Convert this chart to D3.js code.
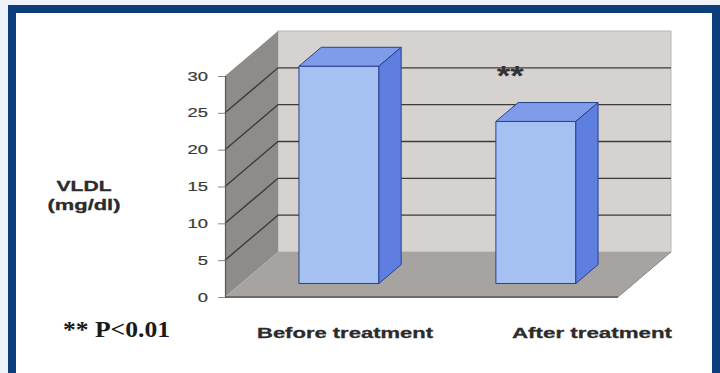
<!DOCTYPE html>
<html><head><meta charset="utf-8">
<script src="https://cdn.jsdelivr.net/npm/d3@7"></script>
<style>html,body{margin:0;padding:0;background:#fff;overflow:hidden;} svg{display:block;}</style>
</head><body>
<script>
// VLDL before and after treatment (mg/dl)
const categories = ["Before treatment", "After treatment"];
const values = [29.5, 22];
const tickValues = [0, 5, 10, 15, 20, 25, 30];
const axisTitle = ["VLDL", "(mg/dl)"];
const significanceMark = "**";
const footnote = "** P<0.01";

const W = 720, H = 373;
const svg = d3.select("body").append("svg").attr("width", W).attr("height", H);

// slide background and dark blue frame
svg.append("rect").attr("width", W).attr("height", H).attr("fill", "#edf3f9");
svg.append("rect").attr("x", 8).attr("y", 5).attr("width", 720).attr("height", 400).attr("fill", "#0e3d7c");
svg.append("rect").attr("x", 16).attr("y", 13).attr("width", 696).attr("height", 400).attr("fill", "#ffffff");

// oblique 3D projection: depth 0 = front plane, 1 = back wall
const DX = 53, DY = 45;
const y = d3.scaleLinear().domain([0, 30]).range([297, 76]);
const x = d3.scaleBand().domain(categories).range([225, 618])
  .paddingInner(0.594).paddingOuter(0.295);
const [x0, x1] = x.range();
const P = (px, v, d) => [px + d * DX, y(v) - d * DY];
const poly = pts => "M" + pts.map(p => p.join(",")).join("L") + "Z";
const yMax = d3.max(tickValues);

const plot = svg.append("g");

// back wall
const bTL = P(x0, yMax, 1), bBR = P(x1, 0, 1);
plot.append("rect").attr("x", bTL[0]).attr("y", bTL[1])
  .attr("width", bBR[0] - bTL[0]).attr("height", bBR[1] - bTL[1])
  .attr("fill", "#d5d2cf").attr("stroke", "#b9b6b3").attr("stroke-width", 1);

// side wall
plot.append("path")
  .attr("d", poly([P(x0, yMax, 0), P(x0, yMax, 1), P(x0, 0, 1), P(x0, 0, 0)]))
  .attr("fill", "#8e8b88");

// floor
plot.append("path")
  .attr("d", poly([P(x0, 0, 0), P(x0, 0, 1), P(x1, 0, 1), P(x1, 0, 0)]))
  .attr("fill", "#a7a3a0");
plot.append("line")
  .attr("x1", P(x0, 0, 0)[0]).attr("y1", P(x0, 0, 0)[1])
  .attr("x2", P(x1, 0, 0)[0]).attr("y2", P(x1, 0, 0)[1])
  .attr("stroke", "#6e6b69").attr("stroke-width", 2);
plot.append("line")
  .attr("x1", P(x1, 0, 0)[0]).attr("y1", P(x1, 0, 0)[1])
  .attr("x2", P(x1, 0, 1)[0]).attr("y2", P(x1, 0, 1)[1])
  .attr("stroke", "#8a8784").attr("stroke-width", 1);

// gridlines on back and side walls
const grid = tickValues.filter(t => t > 0 && t < yMax);
grid.forEach(t => {
  const a = P(x0, t, 0), b = P(x0, t, 1), c = P(x1, t, 1);
  plot.append("path").attr("d", `M${a}L${b}L${c}`)
    .attr("fill", "none").attr("stroke", "#3d3c3b").attr("stroke-width", 1.4);
});

// value axis
const axis = d3.axisLeft(y).tickValues(tickValues).tickSize(7).tickPadding(10);
const ag = svg.append("g").attr("transform", `translate(${x0},0)`).call(axis);
ag.select(".domain").attr("stroke", "#5a5856").attr("stroke-width", 1.2);
ag.selectAll(".tick line").attr("stroke", "#8a8886");
ag.selectAll(".tick text")
  .attr("font-family", "Liberation Sans, Arial, sans-serif")
  .attr("font-size", 12.5).attr("fill", "#3a3a3a").attr("stroke", "#3a3a3a").attr("stroke-width", 0.2)
  .attr("textLength", d => String(d).length * 10.2)
  .attr("lengthAdjust", "spacingAndGlyphs");

// 3D columns
const d0 = 0.30, d1 = 0.72;
const bars = plot.selectAll("g.bar").data(categories).join("g").attr("class", "bar");
bars.each(function (c, i) {
  const g = d3.select(this);
  const L = x(c), R = x(c) + x.bandwidth(), v = values[i];
  g.append("path").attr("d", poly([P(L, v, d0), P(R, v, d0), P(R, 0, d0), P(L, 0, d0)]))
    .attr("fill", "#a5c1f1");
  g.append("path").attr("d", poly([P(L, v, d0), P(L, v, d1), P(R, v, d1), P(R, v, d0)]))
    .attr("fill", "#7e9cea");
  g.append("path").attr("d", poly([P(R, v, d0), P(R, v, d1), P(R, 0, d1), P(R, 0, d0)]))
    .attr("fill", "#5f7fe0");
  g.selectAll("path").attr("stroke", "#27418f").attr("stroke-width", 1).attr("stroke-linejoin", "round");
});

// significance marker above second column
const sig = P(x(categories[1]), yMax, d0);
svg.append("text").attr("x", sig[0] + 1).attr("y", sig[1] + 22)
  .attr("font-family", "Liberation Sans, Arial, sans-serif")
  .attr("font-weight", "bold").attr("font-size", 28).attr("fill", "#333")
  .attr("textLength", 27).attr("lengthAdjust", "spacingAndGlyphs")
  .text(significanceMark);

// axis title
const titleSizes = [15.5, 15];
const titleWidths = [55, 73];
axisTitle.forEach((t, i) => {
  svg.append("text").attr("x", 84).attr("y", 191 + i * 19)
    .attr("text-anchor", "middle")
    .attr("font-family", "Liberation Sans, Arial, sans-serif")
    .attr("font-weight", "bold").attr("font-size", titleSizes[i]).attr("fill", "#2b2b2b")
    .attr("stroke", "#2b2b2b").attr("stroke-width", 0.3)
    .attr("textLength", titleWidths[i]).attr("lengthAdjust", "spacingAndGlyphs")
    .text(t);
});

// category labels
const labelX = d3.scaleBand().domain(categories).range([221.5, 715.5]);
const labelWidths = [176, 160];
categories.forEach((c, i) => {
  svg.append("text").attr("x", labelX(c) + labelX.bandwidth() / 2).attr("y", 338)
    .attr("text-anchor", "middle")
    .attr("font-family", "Liberation Sans, Arial, sans-serif")
    .attr("font-weight", "bold").attr("font-size", 15.5).attr("fill", "#2b2b2b")
    .attr("stroke", "#2b2b2b").attr("stroke-width", 0.3)
    .attr("textLength", labelWidths[i]).attr("lengthAdjust", "spacingAndGlyphs")
    .text(c);
});

// footnote
svg.append("text").attr("x", 63).attr("y", 337)
  .attr("font-family", "Liberation Serif, Times New Roman, serif")
  .attr("font-weight", "bold").attr("font-size", 24).attr("fill", "#1a1a1a")
  .attr("textLength", 107).attr("lengthAdjust", "spacingAndGlyphs")
  .text(footnote);
</script>
</body></html>
